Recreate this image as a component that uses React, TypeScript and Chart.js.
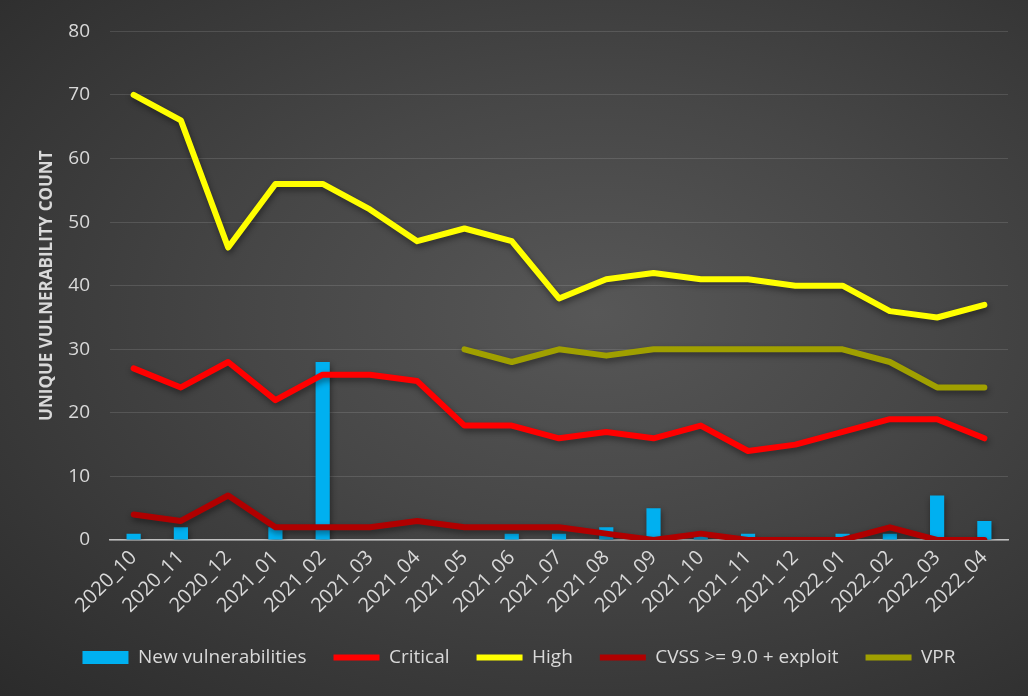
import React, { useEffect, useRef } from 'react';
import { Chart, registerables } from 'chart.js';

Chart.register(...registerables);

const categories = [
  '2020_10', '2020_11', '2020_12', '2021_01', '2021_02', '2021_03', '2021_04',
  '2021_05', '2021_06', '2021_07', '2021_08', '2021_09', '2021_10', '2021_11',
  '2021_12', '2022_01', '2022_02', '2022_03', '2022_04',
];
const newVulnerabilities = [1, 2, 0, 2, 28, 0, 0, 0, 1, 1, 2, 5, 1, 1, 0, 1, 1, 7, 3];
const critical = [27, 24, 28, 22, 26, 26, 25, 18, 18, 16, 17, 16, 18, 14, 15, 17, 19, 19, 16];
const high = [70, 66, 46, 56, 56, 52, 47, 49, 47, 38, 41, 42, 41, 41, 40, 40, 36, 35, 37];
const cvssExploit = [4, 3, 7, 2, 2, 2, 3, 2, 2, 2, 1, 0, 1, 0, 0, 0, 2, 0, 0];
const vpr = [null, null, null, null, null, null, null, 30, 28, 30, 29, 30, 30, 30, 30, 30, 28, 24, 24];
const yTicks = [0, 10, 20, 30, 40, 50, 60, 70, 80];

const FONT = '"Open Sans", "DejaVu Sans", sans-serif';
const TEXT = '#d9d9d9';

const shadowPlugin = {
  id: 'shadow',
  beforeDatasetsDraw(chart: any) {
    const ctx = chart.ctx;
    ctx.save();
    ctx.shadowColor = 'rgba(0,0,0,0.45)';
    ctx.shadowBlur = 6;
    ctx.shadowOffsetX = 1;
    ctx.shadowOffsetY = 3;
  },
  afterDatasetsDraw(chart: any) {
    chart.ctx.restore();
  },
};

function lineDataset(label: string, data: (number | null)[], color: string) {
  return {
    type: 'line' as const,
    label,
    data,
    borderColor: color,
    backgroundColor: color,
    borderWidth: 6,
    pointRadius: 0,
    pointHoverRadius: 0,
    pointStyle: 'line',
    tension: 0,
    borderCapStyle: 'round' as const,
    borderJoinStyle: 'round' as const,
    order: 0,
  };
}

export default function App() {
  const ref = useRef<HTMLCanvasElement | null>(null);

  useEffect(() => {
    document.body.style.margin = '0';
    if (!ref.current) return;
    const chart = new Chart(ref.current, {
      type: 'bar',
      data: {
        labels: categories,
        datasets: [
          {
            type: 'bar',
            label: 'New vulnerabilities',
            data: newVulnerabilities,
            backgroundColor: '#00b0f0',
            borderWidth: 0,
            barPercentage: 0.3,
            categoryPercentage: 1,
            pointStyle: 'rect',
            order: 1,
          } as any,
          lineDataset('Critical', critical, '#ff0000'),
          lineDataset('High', high, '#ffff00'),
          lineDataset('CVSS >= 9.0 + exploit', cvssExploit, '#b00000'),
          lineDataset('VPR', vpr, '#a0a000'),
        ],
      },
      options: {
        animation: false,
        responsive: false,
        maintainAspectRatio: false,
        layout: { padding: { left: 30, right: 20, top: 30, bottom: 19 } },
        scales: {
          x: {
            offset: true,
            afterFit(axis: any) {
              axis.height = 81;
            },
            grid: { display: false, drawTicks: false },
            border: { display: true, color: '#bfbfbf', width: 1.5 },
            ticks: {
              color: TEXT,
              font: { family: FONT, size: 20 },
              maxRotation: 45,
              minRotation: 45,
              autoSkip: false,
              padding: 6,
            },
          },
          y: {
            min: 0,
            max: 80,
            afterFit(axis: any) {
              axis.width = 80;
            },
            afterBuildTicks(axis: any) {
              axis.ticks = yTicks.map((v) => ({ value: v }));
            },
            grid: { color: 'rgba(255,255,255,0.12)', lineWidth: 1, drawTicks: false },
            border: { display: false },
            ticks: {
              color: TEXT,
              font: { family: FONT, size: 19 },
              padding: 20,
            },
            title: {
              display: true,
              text: 'UNIQUE VULNERABILITY COUNT',
              color: TEXT,
              font: { family: FONT, size: 17, weight: 'bold' },
              padding: { top: 7, bottom: 4 },
            },
          },
        },
        plugins: {
          legend: {
            position: 'bottom',
            labels: {
              color: TEXT,
              font: { family: FONT, size: 19 },
              usePointStyle: true,
              pointStyleWidth: 46,
              boxHeight: 13,
              padding: 27,
              sort: (a: any, b: any) => a.datasetIndex - b.datasetIndex,
            },
          },
          tooltip: { enabled: false },
        },
      },
      plugins: [shadowPlugin],
    } as any);
    return () => chart.destroy();
  }, []);

  return (
    <div
      style={{
        position: 'absolute',
        left: 0,
        top: 0,
        width: 1028,
        height: 696,
        background: 'radial-gradient(ellipse at 58% 45%, #575757 0%, #474747 40%, #2b2b2b 100%)',
      }}
    >
      <canvas ref={ref} width={1028} height={696} style={{ display: 'block' }} />
    </div>
  );
}
